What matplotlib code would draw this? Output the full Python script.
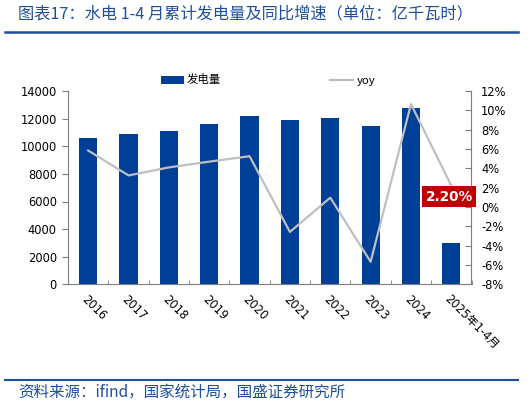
import matplotlib
matplotlib.use('Agg')
import matplotlib.pyplot as plt
import numpy as np

plt.rcParams['font.family'] = ['DejaVu Sans', 'Noto Sans CJK SC']

# Data
years = ['2016', '2017', '2018', '2019', '2020', '2021', '2022', '2023', '2024', '2025年1-4月']
generation = [10580, 10870, 11090, 11620, 12200, 11900, 12070, 11450, 12780, 3020]
yoy = [5.85, 3.27, 4.1, 4.7, 5.26, -2.58, 0.97, -5.67, 10.66, 2.2]

bar_color = '#003F98'
line_color = '#BFBFBF'
title_color = '#1F4E9C'
spine_color = '#7F7F7F'

fig = plt.figure(figsize=(5.31, 4.05), dpi=100)

# Title and rules
fig.text(18 / 531, 1 - 14 / 405, '图表17：水电 1-4 月累计发电量及同比增速（单位：亿千瓦时）',
         fontsize=11.7, color=title_color, va='center', ha='left', style='italic',
         family=['Noto Sans CJK SC', 'DejaVu Sans'])
fig.add_artist(plt.Line2D([5 / 531, 518 / 531], [1 - 32 / 405, 1 - 32 / 405],
                          color=title_color, lw=1.8))
fig.add_artist(plt.Line2D([5 / 531, 518 / 531], [1 - 380 / 405, 1 - 380 / 405],
                          color=title_color, lw=1.5))
fig.text(18 / 531, 1 - 392 / 405, '资料来源：ifind，国家统计局，国盛证券研究所',
         fontsize=11.2, color=title_color, va='center', ha='left', style='italic',
         family=['Noto Sans CJK SC', 'DejaVu Sans'])

ax = fig.add_axes([68 / 531, 1 - 284.3 / 405, (471.5 - 68) / 531, (284.3 - 91.1) / 405])
ax2 = ax.twinx()

x = np.arange(len(years))
bars = ax.bar(x, generation, width=0.45, color=bar_color, label='发电量', zorder=2)
line, = ax2.plot(x, yoy, color=line_color, lw=1.6, label='yoy', zorder=3)

ax.set_xlim(-0.5, len(years) - 0.5)
ax.set_ylim(0, 14000)
ax.set_yticks(np.arange(0, 14001, 2000))
ax2.set_ylim(-8, 12)
ax2.set_yticks(np.arange(-8, 13, 2))
ax2.set_yticklabels([f'{v}%' for v in range(-8, 13, 2)])

# category boundary ticks on x axis
ax.set_xticks(x)
ax.set_xticklabels(years, rotation=-45, ha='left', va='top', rotation_mode='anchor')
ax.set_xticks(np.arange(-0.5, len(years), 1), minor=True)
ax.tick_params(axis='x', which='major', length=0, pad=6, labelsize=8.3)
ax.tick_params(axis='x', which='minor', length=3, direction='in', color=spine_color)
ax.tick_params(axis='y', length=4, direction='out', color=spine_color, labelsize=8.3, pad=4)
ax2.tick_params(axis='y', length=4, direction='in', color=spine_color, labelsize=8.3, pad=7)

for a in (ax, ax2):
    a.spines['top'].set_visible(False)
    for s in ('left', 'right', 'bottom'):
        a.spines[s].set_color(spine_color)
        a.spines[s].set_linewidth(0.8)
ax.spines['right'].set_visible(False)
ax2.spines['left'].set_visible(False)
ax2.spines['bottom'].set_visible(False)

# Last value callout
ax2.annotate(f'{yoy[-1]:.2f}%', xy=(x[-1], yoy[-1]), xytext=(-1.5, -8), textcoords='offset points',
             ha='center', va='center', fontsize=9.8, fontweight='bold', color='white',
             bbox=dict(boxstyle='square,pad=0.25', fc='#C00000', ec='none'), zorder=5)

# Legend
leg = fig.legend([bars, line], ['发电量', 'yoy'], loc='center', ncol=2,
                 bbox_to_anchor=(268 / 531, 1 - 80 / 405), frameon=False,
                 handlelength=2.0, handletextpad=0.3, columnspacing=9.6,
                 prop={'family': ['Noto Sans CJK SC', 'DejaVu Sans'], 'size': 8.2})

fig.savefig('out.png', dpi=100)
